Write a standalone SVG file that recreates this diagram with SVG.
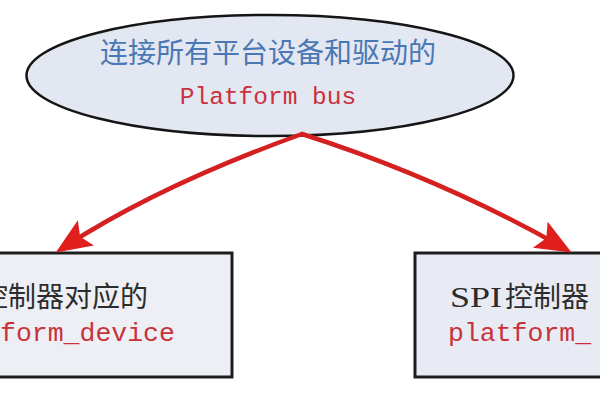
<svg xmlns="http://www.w3.org/2000/svg" width="600" height="400" viewBox="0 0 600 400">
  <style>
    .cjk { font-family: "Noto Sans CJK SC", "Liberation Serif", sans-serif; font-size: 28px; }
    .mono { font-family: "Liberation Mono", "Noto Sans CJK SC", monospace; }
    .blue { fill: #4a78b4; }
    .red { fill: #c8323c; }
    .dark { fill: #2c2c2c; }
    .box { stroke: #1e1e1e; stroke-width: 3; }
    .arrow { fill: none; stroke: #d42020; stroke-width: 4.500; stroke-linecap: round; }
  </style>
  <defs>
    <marker id="head" markerUnits="userSpaceOnUse" markerWidth="40" markerHeight="32" refX="25" refY="15" orient="auto">
      <path d="M0,0 L36,15 L0,30 L7,15 Z" fill="#e01e1e"/>
    </marker>
  </defs>
  <rect width="600" height="400" fill="#ffffff"/>

  <g id="bus">
    <ellipse cx="270" cy="75.500" rx="243.500" ry="60.500" fill="#e3e7f1" stroke="#151515" stroke-width="2.500"/>
    <text class="cjk blue" x="268" y="63" text-anchor="middle" font-size="29.500">连接所有平台设备和驱动的</text>
    <text class="mono red" x="268" y="104" text-anchor="middle" font-size="24.500">Platform bus</text>
  </g>

  <g id="left-device">
    <rect class="box" x="-20" y="253" width="252" height="124" fill="#eeeff4"/>
    <text class="cjk dark" x="-20" y="307" font-size="29">控制器对应的</text>
    <text class="mono red" x="0" y="341" font-size="26.500">form_device</text>
  </g>

  <g id="right-device">
    <rect class="box" x="415" y="253" width="205" height="124" fill="#e8ebf4"/>
    <text class="dark" x="450" y="307" font-size="30" font-family="Liberation Serif, serif" textLength="52" lengthAdjust="spacingAndGlyphs">SPI</text>
    <text class="cjk dark" x="505" y="307" font-size="29">控制器</text>
    <text class="mono red" x="448" y="341" font-size="26.500">platform_</text>
  </g>

  <g id="connectors">
    <path class="arrow" d="M302,134 Q160,185 65,246.500" marker-end="url(#head)"/>
    <path class="arrow" d="M302,134 Q440,178 562,247" marker-end="url(#head)"/>
  </g>
</svg>
